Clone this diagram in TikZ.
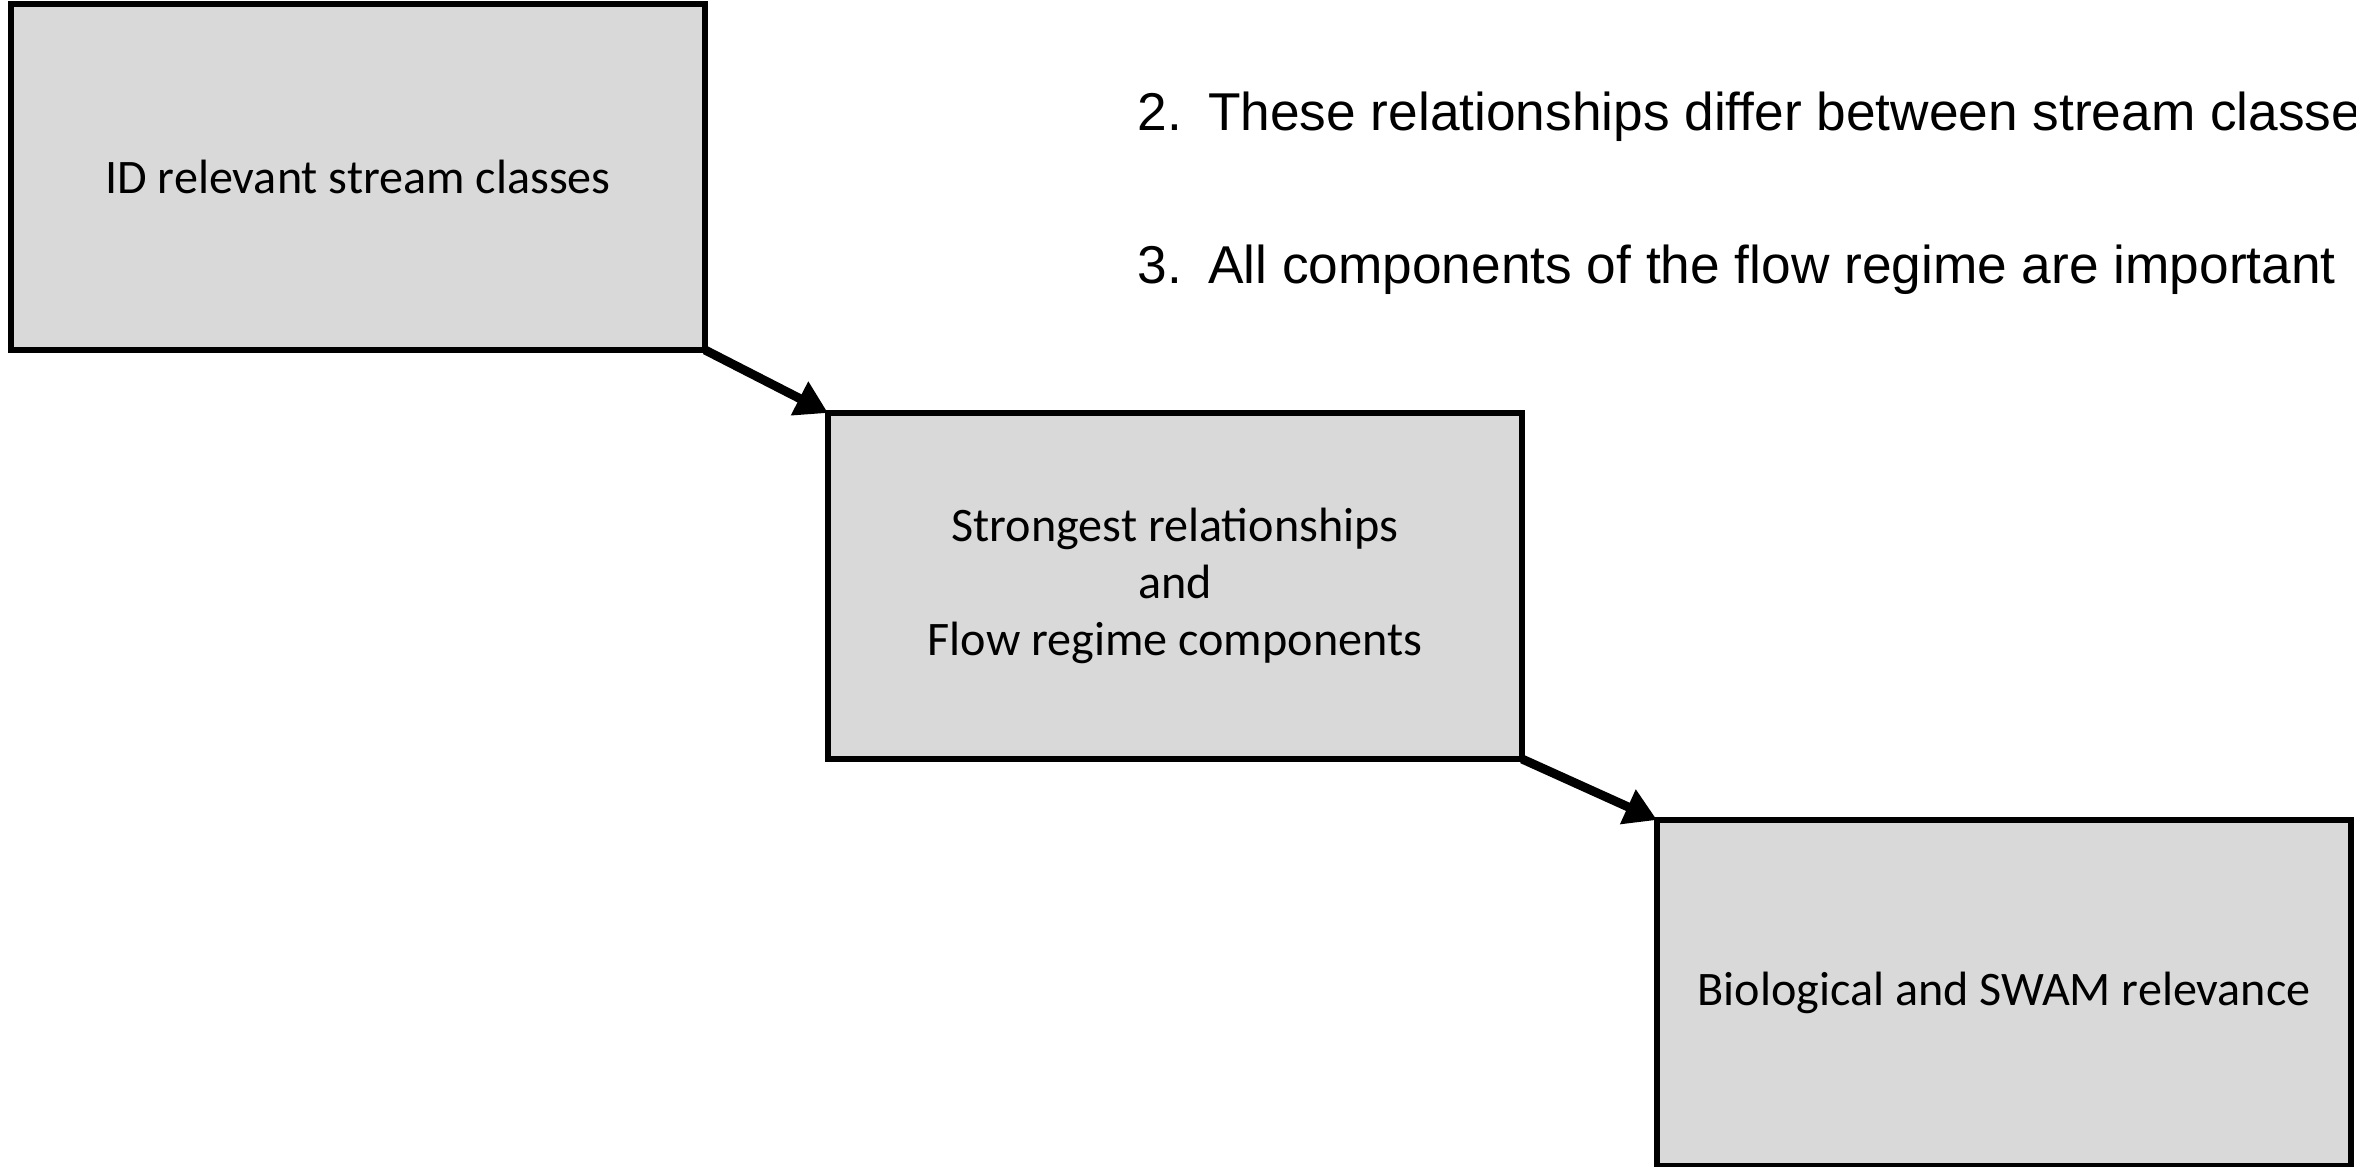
\documentclass[tikz,border=0pt]{standalone}
\usepackage{fontspec}
\setmainfont{Carlito}
\newfontfamily\arialfont{Liberation Sans}
\usetikzlibrary{positioning}
\usetikzlibrary{arrows.meta}
\usepackage{xcolor}
\definecolor{boxgray}{HTML}{D9D9D9}

\begin{document}
\begin{tikzpicture}[scale=1]
\tikzset{stepbox/.style={draw, fill=boxgray, line width=0.055cm, minimum width=6.94cm, minimum height=3.46cm, align=center, inner sep=0pt, outer sep=0pt, font=\fontsize{13.7}{16.2}\selectfont},
  flowarrow/.style={line width=0.09cm, -{Triangle[length=0.32cm, width=0.36cm]}},
  pointtext/.style={anchor=base west, inner sep=0pt, font=\arialfont\fontsize{15.15}{18}\selectfont}}

\useasboundingbox (0,0) rectangle (23.56,11.67);

\node[stepbox] (classes) at (3.58, 9.90) {ID relevant stream classes};
\node[stepbox, below right=0.63cm and 1.23cm of classes] (relations) {Strongest relationships\\and\\Flow regime components};
\node[stepbox, below right=0.61cm and 1.35cm of relations] (relevance) {Biological and SWAM relevance};

\node[pointtext] (differ) at (11.37, 10.36) {2.\hspace{0.26cm}These relationships differ between stream classes};
\node[pointtext] (important) at (11.37, 8.83) {3.\hspace{0.26cm}All components of the flow regime are important};

\draw[flowarrow] (classes.south east) -- (relations.north west);
\draw[flowarrow] (relations.south east) -- (relevance.north west);

\end{tikzpicture}
\end{document}
